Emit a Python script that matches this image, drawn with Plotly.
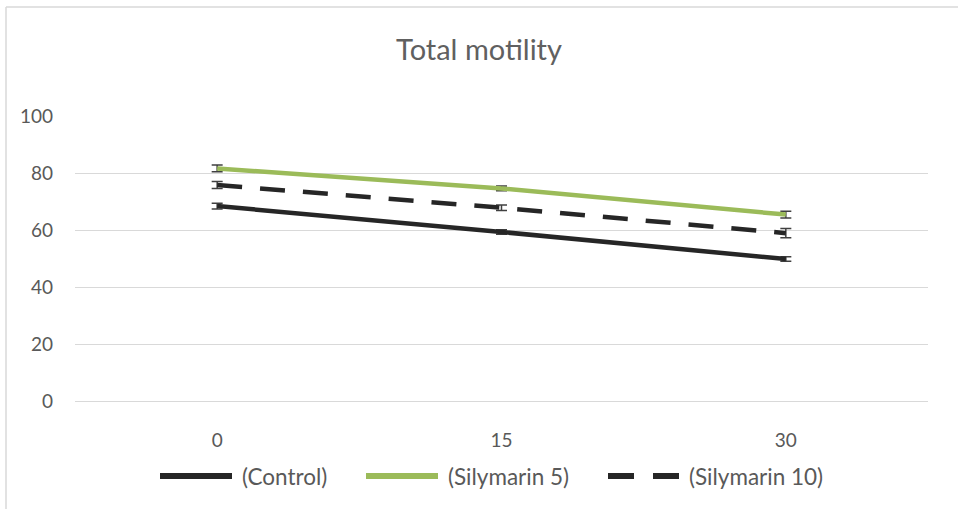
import plotly.graph_objects as go

categories = ["0", "15", "30"]
control = [68.4, 59.3, 49.8]
control_err = [1.0, 0.8, 0.8]
sily5 = [81.6, 74.6, 65.4]
sily5_err = [1.2, 0.8, 1.2]
sily10 = [75.8, 67.8, 58.9]
sily10_err = [1.2, 1.0, 1.6]
names = ["(Control)", "(Silymarin 5)", "(Silymarin 10)"]
colors = ["#262626", "#9bbb59", "#262626"]
dashes = ["solid", "solid", "25px,18px"]

W, H = 958, 509
L, R, T, B = 75, 30, 116, 108
PW, PH = W - L - R, H - T - B

def px(x):
    return (x - L) / PW

def py(y):
    return (H - B - y) / PH

fig = go.Figure()
for name, vals, errs, col, dsh in zip(names, [control, sily5, sily10],
                                      [control_err, sily5_err, sily10_err], colors, dashes):
    fig.add_trace(go.Scatter(x=categories, y=vals, name=name, mode="lines",
                             line=dict(color=col, width=4.5, dash=dsh),
                             error_y=dict(type="data", array=errs, color="#404040",
                                          thickness=1.5, width=5.5),
                             showlegend=False))

fig.update_layout(
    width=W, height=H,
    margin=dict(l=L, r=R, t=T, b=B),
    paper_bgcolor="white", plot_bgcolor="white",
    font=dict(family="Lato, Open Sans, sans-serif", color="#595959", size=18),
    title=dict(text="Total motility", x=0.5, xanchor="center", y=1 - 50 / H, yanchor="middle",
               font=dict(size=29, color="#606060")),
    xaxis=dict(type="category", range=[-0.5, 2.5], showgrid=False, showline=True,
               linecolor="#d9d9d9", linewidth=1, ticks="", ticklabelstandoff=22,
               tickfont=dict(size=19, color="#595959")),
    yaxis=dict(range=[0, 100], dtick=20, showgrid=True, gridcolor="#d9d9d9", gridwidth=1,
               zeroline=False, showline=False, ticks="", ticklabelstandoff=21,
               tickfont=dict(size=19, color="#595959")),
    showlegend=False,
)

# chart border (left and top visible)
fig.add_shape(type="line", xref="paper", yref="paper",
              x0=px(6), x1=px(W + 5), y0=py(7), y1=py(7),
              line=dict(color="#d9d9d9", width=1.5))
fig.add_shape(type="line", xref="paper", yref="paper",
              x0=px(6), x1=px(6), y0=py(7), y1=py(H + 5),
              line=dict(color="#d9d9d9", width=1.5))

# manual legend with long line samples
leg_y = 476
leg_items = [(160, 232, 240), (366, 438, 446), (608, 679, 687)]
for (x0, x1, tx), name, col, dsh in zip(leg_items, names, colors, dashes):
    if dsh == "solid":
        fig.add_shape(type="line", xref="paper", yref="paper",
                      x0=px(x0), x1=px(x1), y0=py(leg_y), y1=py(leg_y),
                      line=dict(color=col, width=6))
    else:
        fig.add_shape(type="line", xref="paper", yref="paper",
                      x0=px(x0), x1=px(x0 + 26), y0=py(leg_y), y1=py(leg_y),
                      line=dict(color=col, width=6))
        fig.add_shape(type="line", xref="paper", yref="paper",
                      x0=px(x1 - 26), x1=px(x1), y0=py(leg_y), y1=py(leg_y),
                      line=dict(color=col, width=6))
    fig.add_annotation(text=name, xref="paper", yref="paper", x=px(tx), y=py(leg_y),
                       xanchor="left", yanchor="middle", showarrow=False,
                       font=dict(size=22.5, color="#595959"))

fig.write_html("out.html", config={"displayModeBar": False},
               post_script="document.body.style.margin='0';document.body.style.overflow='hidden';")
